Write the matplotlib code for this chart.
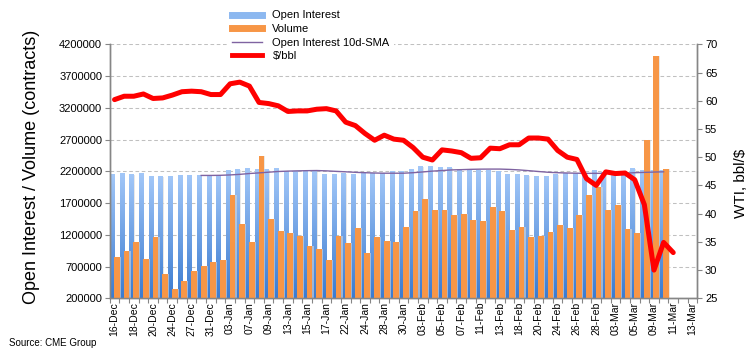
import numpy as np
import matplotlib
matplotlib.use('Agg')
import matplotlib.pyplot as plt
from matplotlib import ticker
from matplotlib.colors import LinearSegmentedColormap
from matplotlib.lines import Line2D

plt.rcParams['font.family'] = ['Liberation Sans', 'DejaVu Sans']

# trading days on the category axis (labels shown on every other one)
days = ['16-Dec', '17-Dec', '18-Dec', '19-Dec', '20-Dec', '23-Dec', '24-Dec', '26-Dec', '27-Dec', '30-Dec', '31-Dec',
        '02-Jan', '03-Jan', '06-Jan', '07-Jan', '08-Jan', '09-Jan', '10-Jan', '13-Jan', '14-Jan', '15-Jan', '16-Jan',
        '17-Jan', '21-Jan', '22-Jan', '23-Jan', '24-Jan', '27-Jan', '28-Jan', '29-Jan', '30-Jan', '31-Jan',
        '03-Feb', '04-Feb', '05-Feb', '06-Feb', '07-Feb', '10-Feb', '11-Feb', '12-Feb', '13-Feb', '14-Feb',
        '18-Feb', '19-Feb', '20-Feb', '21-Feb', '24-Feb', '25-Feb', '26-Feb', '27-Feb', '28-Feb',
        '02-Mar', '03-Mar', '04-Mar', '05-Mar', '06-Mar', '09-Mar', '10-Mar', '11-Mar', '12-Mar', '13-Mar']

open_interest = [2142000, 2158000, 2142000, 2158000, 2111000, 2111000, 2111000, 2126000, 2126000, 2126000,
                 2126000, 2126000, 2200000, 2221000, 2237000, 2221000, 2221000, 2237000, 2189000, 2189000,
                 2189000, 2189000, 2142000, 2142000, 2158000, 2142000, 2174000, 2158000, 2158000, 2189000,
                 2189000, 2221000, 2268000, 2268000, 2252000, 2252000, 2221000, 2221000, 2205000, 2205000,
                 2189000, 2142000, 2142000, 2126000, 2111000, 2111000, 2142000, 2158000, 2158000, 2158000,
                 2205000, 2180000, 2180000, 2189000, 2237000, 2210000, 2210000, 2215000]

volume = [851000, 945000, 1087000, 819000, 1166000, 583000, 347000, 473000, 630000, 709000,
          772000, 804000, 1827000, 1371000, 1087000, 2441000, 1449000, 1260000, 1229000, 1182000,
          1024000, 977000, 804000, 1182000, 1071000, 1308000, 914000, 1166000, 1103000, 1087000,
          1323000, 1575000, 1764000, 1591000, 1591000, 1512000, 1528000, 1434000, 1418000, 1638000,
          1575000, 1276000, 1323000, 1166000, 1182000, 1245000, 1355000, 1308000, 1512000, 1827000,
          1953000, 1591000, 1670000, 1292000, 1229000, 2699000, 4016000, 2237000]

# 10-day SMA starts on the 10th day
sma_start = 9
oi_sma = [2135000, 2135000, 2137000, 2143000, 2152000, 2165000, 2175000, 2186000, 2197000, 2203000,
          2207000, 2210000, 2212000, 2207000, 2199000, 2192000, 2184000, 2178000, 2173000, 2170000,
          2170000, 2170000, 2178000, 2190000, 2203000, 2212000, 2222000, 2226000, 2231000, 2234000,
          2235000, 2235000, 2230000, 2222000, 2210000, 2197000, 2185000, 2178000, 2173000, 2170000,
          2168000, 2168000, 2168000, 2170000, 2172000, 2178000, 2183000, 2188000, 2192000]

wti = [60.2, 60.8, 60.8, 61.2, 60.4, 60.5, 61.0, 61.6, 61.7, 61.6,
       61.1, 61.1, 63.0, 63.3, 62.6, 59.7, 59.5, 59.1, 58.1, 58.2,
       58.2, 58.5, 58.6, 58.2, 56.2, 55.6, 54.2, 53.0, 53.9, 53.2,
       53.0, 51.7, 50.0, 49.5, 51.3, 51.1, 50.8, 49.8, 49.9, 51.6,
       51.5, 52.2, 52.2, 53.4, 53.4, 53.2, 51.2, 50.0, 49.6, 46.2,
       45.0, 47.4, 47.1, 47.2, 46.0, 41.6, 30.0, 34.9, 33.1]

grey = '#868686'
fig = plt.figure(figsize=(7.55, 3.55), dpi=100, facecolor='white')
ax = fig.add_axes([0.1453, 0.1597, 0.7783, 0.7155])

x = np.arange(len(days))
xb = x[:len(open_interest)]

# bar shadows
ax.bar(xb - 0.24 + 0.12, open_interest, width=0.42, color='#d9d9d9', alpha=0.6, zorder=1.5)
ax.bar(xb + 0.25 + 0.12, volume, width=0.6, color='#d9d9d9', alpha=0.6, zorder=2.5)

# open interest bars with vertical gradient
blue_cmap = LinearSegmentedColormap.from_list('oi', ['#3b7bd0', '#a2c7f8'])
grad = np.linspace(1, 0, 128).reshape(-1, 1)
oi_bars = ax.bar(xb - 0.24, open_interest, width=0.42, color='none', zorder=2)
for b in oi_bars:
    x0, w, h = b.get_x(), b.get_width(), b.get_height()
    ax.imshow(grad, extent=[x0, x0 + w, 200000, h], aspect='auto', cmap=blue_cmap,
              vmin=0, vmax=1, zorder=2, interpolation='bilinear')

ax.bar(xb + 0.25, volume, width=0.6, color='#F79646', zorder=3)
ax.plot(x[sma_start:sma_start + len(oi_sma)], oi_sma, color='#7F63A1', lw=1.0, zorder=4)

ax.set_xlim(-0.5, len(days) - 0.5)
ax.set_ylim(200000, 4200000)
ax.set_yticks(np.arange(200000, 4200001, 500000))
ax.yaxis.set_major_formatter(ticker.FuncFormatter(lambda v, p: f'{int(v)}'))
ax.set_xticks(x[::2])
ax.set_xticklabels(days[::2], rotation=90, fontsize=7.5)
ax.set_xticks(np.arange(-0.5, len(days), 1), minor=True)
ax.tick_params(axis='x', which='major', length=0, pad=2.5)
ax.tick_params(axis='x', which='minor', length=3.5, color=grey, width=0.8)
ax.tick_params(axis='y', labelsize=8, length=3.5, color=grey, width=0.8, pad=2)
ax.grid(axis='y', color='#c0c0c0', linestyle=(0, (3.5, 2.5)), lw=0.75)
ax.set_axisbelow(True)

ax2 = ax.twinx()
ax2.plot(x[:len(wti)], wti, color='#FF0000', lw=3.6, zorder=5,
         solid_joinstyle='round', solid_capstyle='round')
ax2.set_ylim(25, 70)
ax2.set_yticks(np.arange(25, 71, 5))
ax2.tick_params(axis='y', labelsize=8, length=3.5, color=grey, width=0.8, pad=2)

for a in (ax, ax2):
    a.spines['top'].set_visible(False)
    for s in ('left', 'right', 'bottom'):
        a.spines[s].set_color(grey)
        a.spines[s].set_linewidth(1.0)

fig.text(31.5 / 755, 1 - 166.7 / 355, 'Open Interest / Volume (contracts)', rotation=90,
         ha='center', va='center', fontsize=13)
fig.text(741 / 755, 1 - 183 / 355, 'WTI, bbl/$', rotation=90, ha='center', va='center', fontsize=11)
fig.text(9 / 755, 1 - 342.7 / 355, 'Source: CME Group', ha='left', va='center', fontsize=7)

handles = [Line2D([], [], color='#8cb8f0', lw=5),
           Line2D([], [], color='#F79646', lw=5),
           Line2D([], [], color='#7F63A1', lw=1),
           Line2D([], [], color='#FF0000', lw=3.5)]
labels = ['Open Interest', 'Volume', 'Open Interest 10d-SMA', '$/bbl']
leg = ax2.legend(handles, labels, loc='upper left', bbox_to_anchor=(228 / 755, 1 - 6 / 355),
                 bbox_transform=fig.transFigure, fontsize=8, frameon=True, fancybox=False,
                 edgecolor='none', facecolor='white', framealpha=1, handlelength=2.7,
                 handletextpad=0.9, labelspacing=0.32, borderpad=0.4, borderaxespad=0)

fig.savefig('out.png', dpi=100, facecolor='white')
